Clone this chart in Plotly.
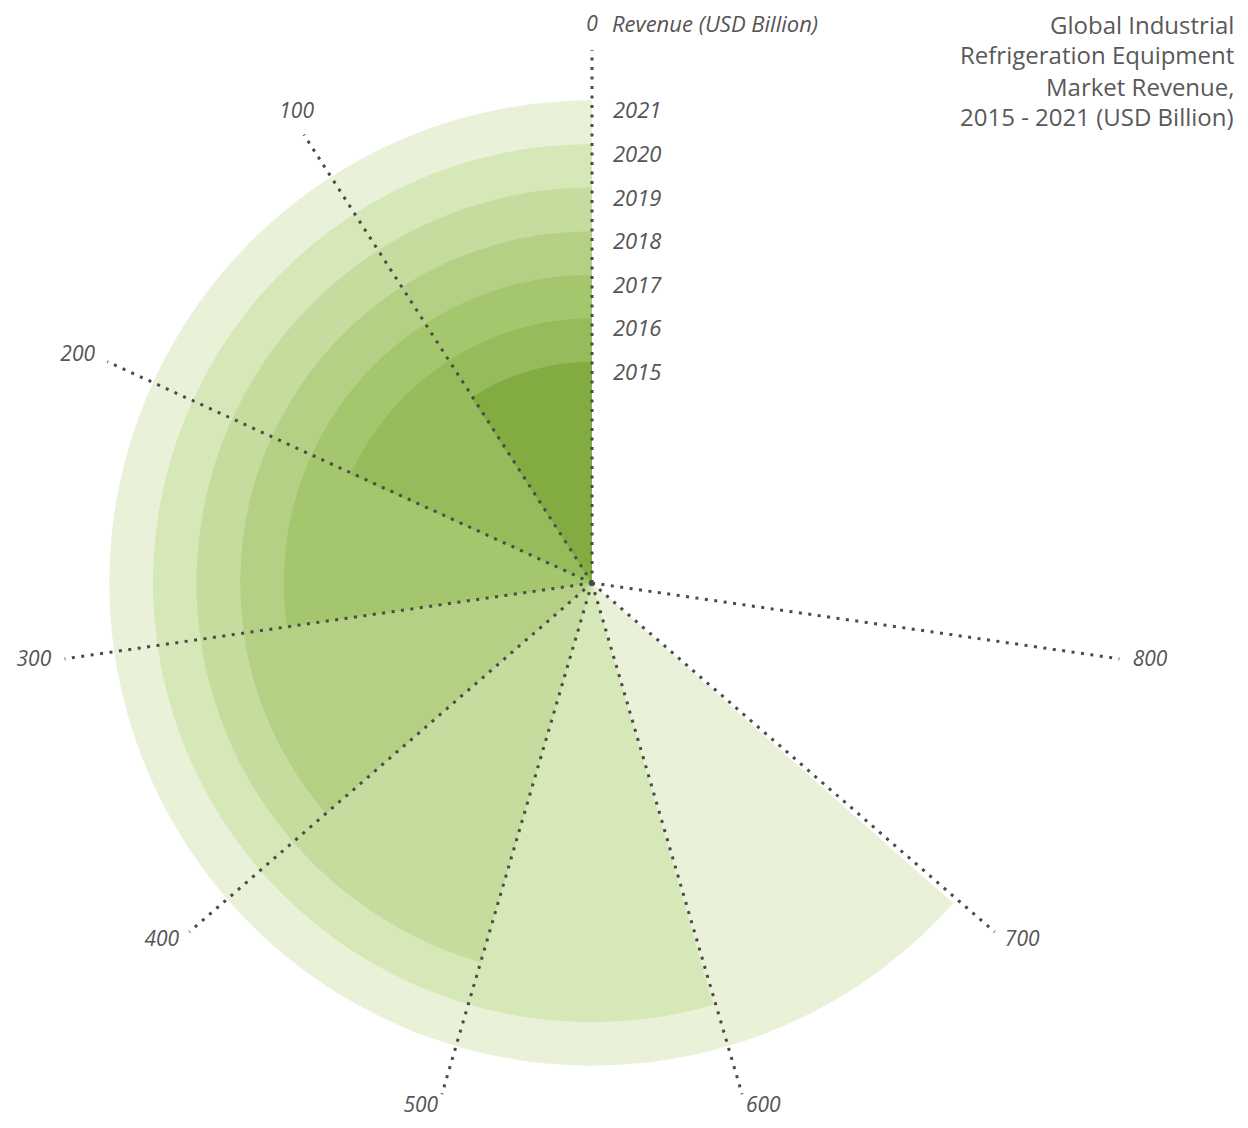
import plotly.graph_objects as go

# ---- data ----
years = ["2015", "2016", "2017", "2018", "2019", "2020", "2021"]
revenue = [101, 201, 300, 400, 500, 599, 698]
angular_ticks = [0, 100, 200, 300, 400, 500, 600, 700, 800]
angular_tick_labels = ["0", "100", "200", "300", "400", "500", "600", "700", "800"]
colors = ["#82ab42", "#95bb5b", "#a4c66d", "#b3d084", "#c4dc9d", "#d6e7b8", "#e9f2d9"]
title_lines = ["Global Industrial", "Refrigeration Equipment", "Market Revenue,", "2015 - 2021 (USD Billion)"]

# ---- layout constants ----
FULL_TURN = 1100          # value units per full circle
RING0 = 5.07              # radius (ring units) of the innermost bar
R_MAX = 12.62
SPOKE_END = 12.22
LABEL_R = 12.53
LABEL_SHIFT = 0.25
UNIT_PX = 43.6
OFF = 8                   # page body margin compensation


def deg(v):
    return v * 360.0 / FULL_TURN


def label_pos(a):
    a = a % 360
    if a < 45 or a > 315:
        return "top center"
    return "middle left" if a < 180 else "middle right"


radii = [RING0 + i for i in range(len(years))]

fig = go.Figure()

for i in reversed(range(len(years))):
    fig.add_trace(go.Barpolar(
        r=[radii[i]], base=[0],
        theta=[deg(revenue[i]) / 2], width=[deg(revenue[i])],
        marker=dict(color=colors[i], line=dict(width=0)),
        name=years[i], hoverinfo="skip", showlegend=False,
    ))

for t in angular_ticks:
    fig.add_trace(go.Scatterpolar(
        r=[0, SPOKE_END], theta=[deg(t), deg(t)], mode="lines",
        line=dict(color="#4a4a4a", width=3, dash="3px,6.5px"),
        hoverinfo="skip", showlegend=False,
    ))

ang_font = dict(family="Open Sans, sans-serif", size=21, color="#555555", style="italic")
rad_font = dict(family="Open Sans, sans-serif", size=22, color="#555555", style="italic")

fig.add_trace(go.Scatterpolar(
    r=[LABEL_R] * len(angular_ticks), theta=[deg(t) for t in angular_ticks],
    mode="text", text=angular_tick_labels,
    textposition=[label_pos(deg(t)) for t in angular_ticks],
    textfont=ang_font, cliponaxis=False,
    hoverinfo="skip", showlegend=False,
))

W, H = 1248, 1128
cx, cy = 592 - OFF, 583 - OFF
rad = R_MAX * UNIT_PX

annotations = []
for k, line in enumerate(title_lines):
    annotations.append(dict(
        text=line, xref="paper", yref="paper",
        x=(1233 - OFF + 3) / W, y=1 - (24 + 31 * k - OFF) / H,
        xanchor="right", yanchor="middle", align="right", showarrow=False,
        font=dict(family="Open Sans, sans-serif", size=24, color="#595959")))
annotations.append(dict(
    text="Revenue (USD Billion)", xref="paper", yref="paper",
    x=(613 - OFF - 3) / W, y=1 - (23 - OFF) / H,
    xanchor="left", yanchor="middle", showarrow=False, font=rad_font))

fig.update_layout(
    width=W, height=H,
    margin=dict(l=0, r=0, t=0, b=0),
    paper_bgcolor="white", plot_bgcolor="white",
    polar=dict(
        domain=dict(x=[(cx - rad) / W, (cx + rad) / W],
                    y=[1 - (cy + rad) / H, 1 - (cy - rad) / H]),
        bgcolor="rgba(0,0,0,0)",
        angularaxis=dict(
            direction="counterclockwise", rotation=90,
            tickmode="array", tickvals=[], showticklabels=False,
            showgrid=False, showline=False, ticks="",
        ),
        radialaxis=dict(
            range=[0, R_MAX], angle=90, tickangle=90,
            tickmode="array", tickvals=[r - LABEL_SHIFT for r in radii],
            ticktext=years,
            showgrid=False, showline=False,
            ticks="outside", ticklen=16, tickcolor="rgba(0,0,0,0)",
            tickfont=rad_font,
        ),
    ),
    annotations=annotations,
)

fig.write_html("out.html")
